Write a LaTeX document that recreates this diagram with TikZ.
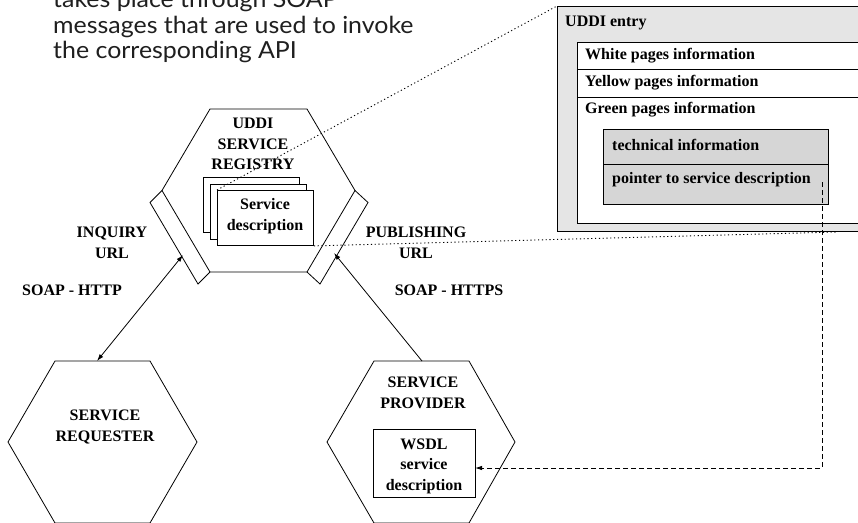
\documentclass[tikz,border=0pt]{standalone}
\usepackage{fontspec}
\usetikzlibrary{arrows.meta}
\newfontfamily\serifb{Liberation Serif}
\newfontfamily\topfont{Lato}
\tikzset{tipa/.tip={Latex[length=7pt,width=4.5pt]}}
\begin{document}
\begin{tikzpicture}[x=1pt,y=-1pt,
  toptxt/.style={anchor=base west, inner sep=0pt, text=black!88, xscale=1.06, font=\topfont\fontsize{23.5}{25}\selectfont},
  lbl/.style={inner sep=0pt, align=center, font=\serifb\bfseries\fontsize{16}{20.5}\selectfont},
  lblw/.style={lbl, anchor=west},
  hexln/.style={line width=0.8pt},
  boxn/.style={draw, line width=1pt, anchor=north west, inner sep=0pt},
  page/.style={draw, fill=white, line width=0.9pt, anchor=north west, inner sep=0pt, minimum width=96pt, minimum height=55pt},
  conn/.style={line width=0.8pt},
  dotln/.style={line width=0.9pt, dash pattern=on 1.2pt off 2.6pt},
  dashln/.style={line width=0.9pt, dash pattern=on 5pt off 3pt},
]
\useasboundingbox (0,0) rectangle (858,522);
\clip (0,0) rectangle (858,522);
\fill[white] (0,0) rectangle (858,522);

% top text (cut by the frame, as in the reference)
\node[toptxt] (t1) at (53,8) {takes place through SOAP};
\node[toptxt] (t2) at (53,33) {messages that are used to invoke};
\node[toptxt] (t3) at (53,58) {the corresponding API};

% UDDI entry box
\node[boxn, fill=black!10, minimum width=320pt, minimum height=225pt] (uddi) at (557,6) {};
\node[lblw] (uddit) at (565,23) {UDDI entry};
\node[boxn, fill=white, minimum width=300pt, minimum height=27pt] (wp) at (577,42) {};
\node[boxn, fill=white, minimum width=300pt, minimum height=28pt] (yp) at (577,69) {};
\node[boxn, fill=white, minimum width=300pt, minimum height=126pt] (gp) at (577,97) {};
\node[lblw] (wpt) at (585,56) {White pages information};
\node[lblw] (ypt) at (585,83) {Yellow pages information};
\node[lblw] (gpt) at (585,110) {Green pages information};
\node[boxn, fill=black!16, minimum width=225pt, minimum height=35pt] (tech) at (603,129) {};
\node[boxn, fill=black!16, minimum width=225pt, minimum height=40pt] (ptr) at (603,164) {};
\node[lblw] (techt) at (612,145) {technical information};
\node[lblw] (ptrt) at (612,180) {pointer to service description};

% registry hexagon
\draw[hexln] (162,190.5) coordinate (r1) -- (210,109) coordinate (r2) -- (307,109) coordinate (r3)
  -- (355,190.5) coordinate (r4) -- (307,272) coordinate (r5) -- (210,272) coordinate (r6) -- cycle;
% inquiry slot
\draw[hexln] (r1) -- (150,202.5) -- (198,284) -- (r6);
% publishing slot
\draw[hexln] (r4) -- (368,202.5) -- (320,284) -- (r5);
\node[lbl] (regt) at (253,144) {UDDI\\SERVICE\\REGISTRY};

% stacked service descriptions
\node[page] (p1) at (203,177) {};
\node[page] (p2) at (210,184) {};
\node[page] (p3) at (217,190) {};
\node[lbl] (p3t) at (265,216) {Service\\description};

% requester hexagon
\draw[hexln] (8,442) coordinate (q1) -- (55,361) coordinate (q2) -- (150,361) coordinate (q3)
  -- (197,442) coordinate (q4) -- (150,523) coordinate (q5) -- (55,523) coordinate (q6) -- cycle;
\node[lbl] (reqt) at (105,427) {SERVICE\\REQUESTER};

% provider hexagon
\draw[hexln] (327,442) coordinate (s1) -- (374,361) coordinate (s2) -- (469,361) coordinate (s3)
  -- (515,442) coordinate (s4) -- (469,523) coordinate (s5) -- (374,523) coordinate (s6) -- cycle;
\node[lbl] (provt) at (423,393) {SERVICE\\PROVIDER};
\node[boxn, line width=0.9pt, minimum width=102pt, minimum height=68pt] (wsdl) at (373,429) {};
\node[lbl] (wsdlt) at (424,466) {WSDL\\service\\description};

% labels
\node[lbl] (inql) at (112,243) {INQUIRY\\URL};
\node[lbl] (publ) at (416,243) {PUBLISHING\\URL};
\node[lbl] (soap1) at (72,290) {SOAP - HTTP};
\node[lbl] (soap2) at (449,290) {SOAP - HTTPS};

% connectors
\coordinate (inqT) at (183,255);
\coordinate (reqT) at (97,361);
\draw[conn, tipa-tipa] (reqT) -- (inqT);
\coordinate (pubT) at (334,253);
\coordinate (provT) at (422,361);
\draw[conn, -tipa] (provT) -- (pubT);

% dotted links to the UDDI entry
\coordinate (uend) at (837,232);
\draw[dotln] (p3.north west) -- (uddi.north west);
\draw[dotln] (p3.south east) -- (uend);

% dashed pointer to WSDL
\coordinate (ptrS) at (822,182);
\coordinate (wsdlE) at (475,468);
\draw[dashln, -tipa] (ptrS) |- (wsdlE);
\end{tikzpicture}
\end{document}
